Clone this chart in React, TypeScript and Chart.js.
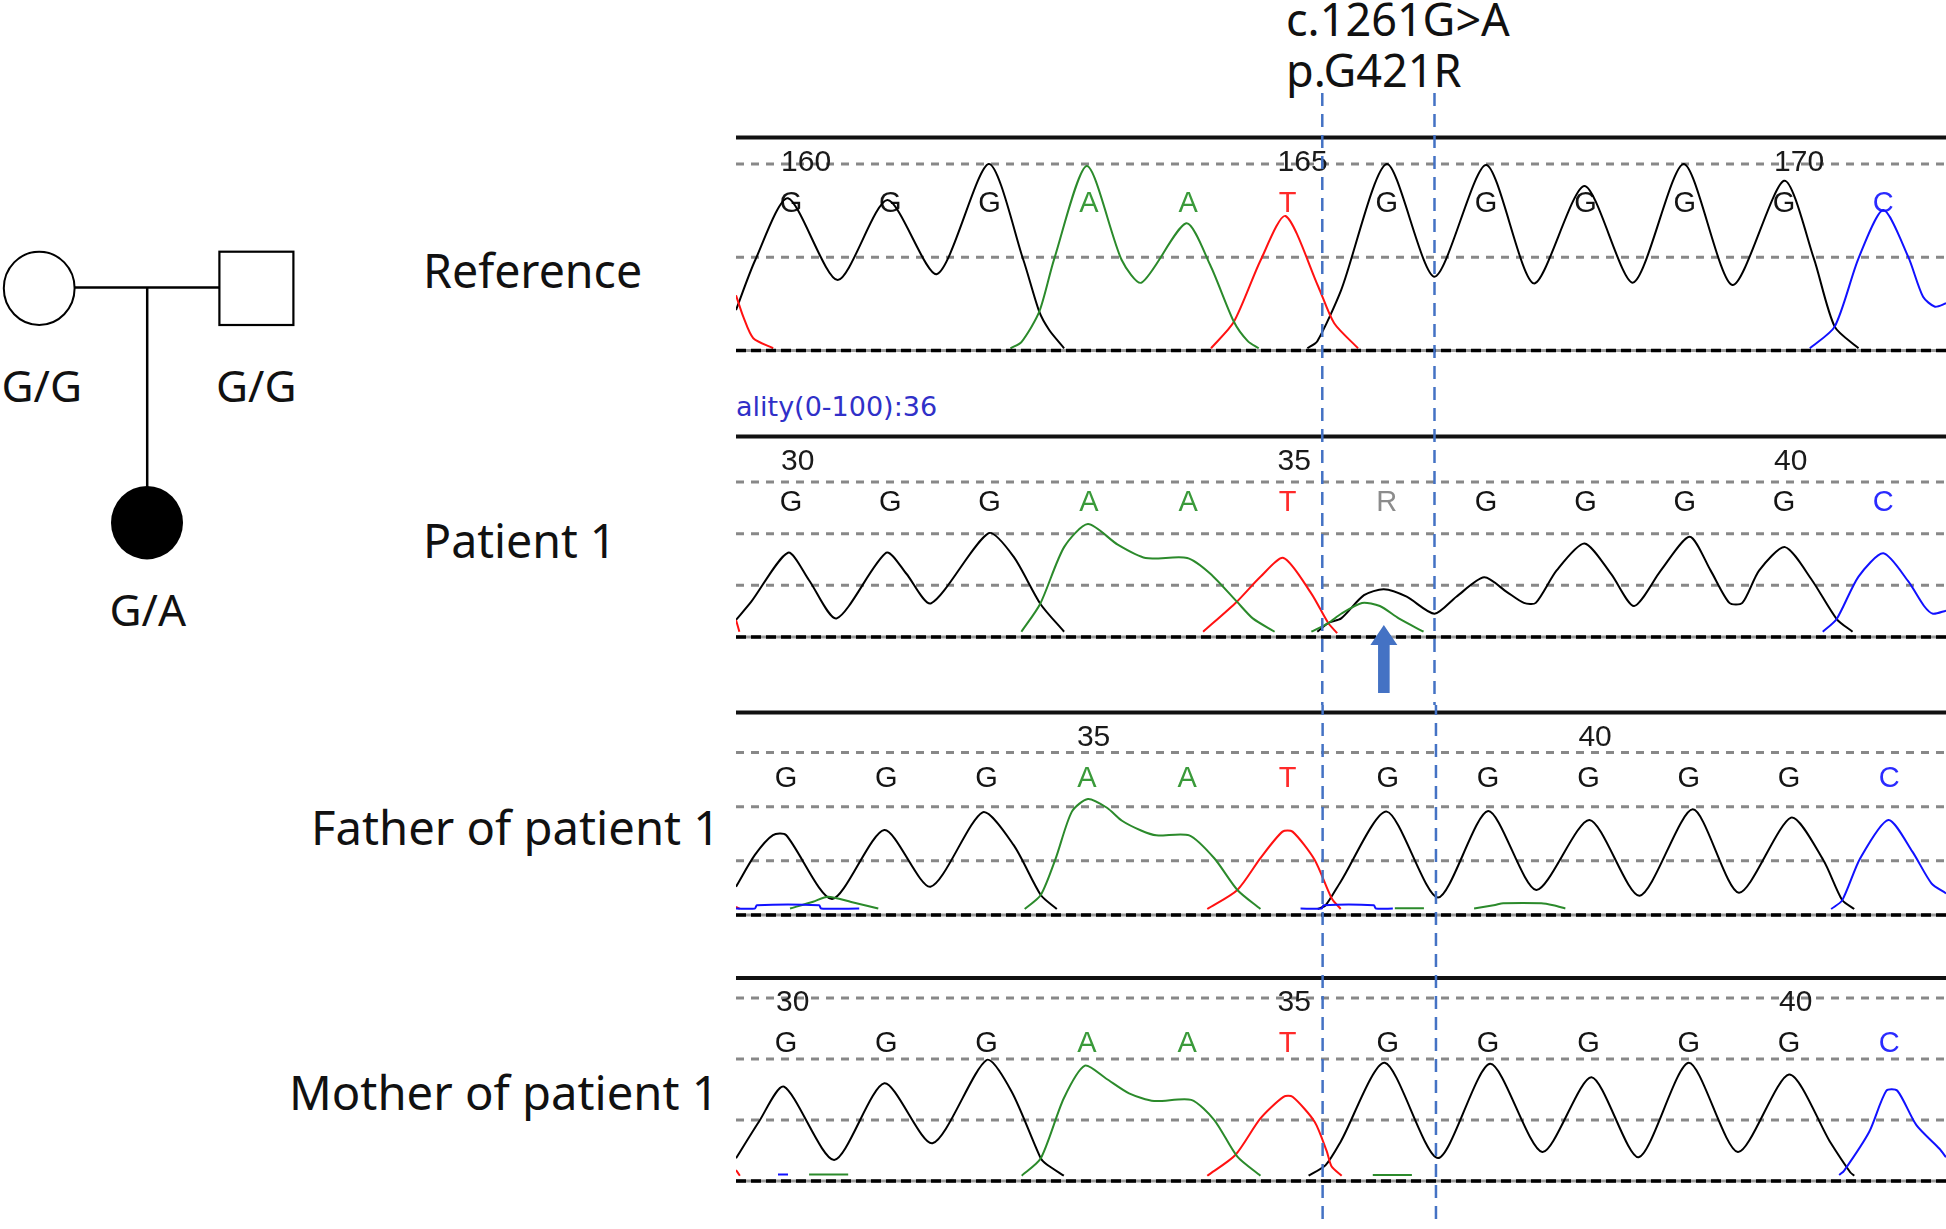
import React, { useEffect, useRef } from 'react';
import { Chart, registerables } from 'chart.js';

Chart.register(...registerables);

type Pt = [number, number] | null;

// ---------------- base calls (x axis = base index) ----------------
const referenceBases = ['G', 'G', 'G', 'A', 'A', 'T', 'G', 'G', 'G', 'G', 'G', 'C'];
const patientBases = ['G', 'G', 'G', 'A', 'A', 'T', 'R', 'G', 'G', 'G', 'G', 'C'];
const fatherBases = ['G', 'G', 'G', 'A', 'A', 'T', 'G', 'G', 'G', 'G', 'G', 'C'];
const motherBases = ['G', 'G', 'G', 'A', 'A', 'T', 'G', 'G', 'G', 'G', 'G', 'C'];

// position numbers: [base index, label]
const referencePositions: [number, string][] = [[0, '160'], [5, '165'], [10, '170']];
const patientPositions: [number, string][] = [[0, '30'], [5, '35'], [10, '40']];
const fatherPositions: [number, string][] = [[3, '35'], [8, '40']];
const motherPositions: [number, string][] = [[0, '30'], [5, '35'], [10, '40']];

const mutationSpan = [5.35, 6.48];
const arrowBase = 5.97;

const sampleLabels = ['Reference', 'Patient 1', 'Father of patient 1', 'Mother of patient 1'];
const genotypes = ['G/G', 'G/G', 'G/A']; // mother, father, patient
const mutationLabels = ['c.1261G>A', 'p.G421R'];
const qualityText = 'ality(0-100):36';

// ---------------- traces: [base position, signal (top dotted line = 100)] ----------------
const referenceBlack: Pt[] = [
  [-0.554, 21.7], [-0.36, 48.5], [-0.03, 81.6], [0.47, 37.8], [0.97, 80.7], [1.47, 41], [1.99, 100],
  [2.34, 48.5], [2.5, 20.8], [2.6, 11], [2.75, 1.2], null,
  [5.2, 1.2], [5.3, 5], [5.54, 32.4], [6.0, 100], [6.48, 39.6], [7.0, 99.5], [7.48, 36], [7.99, 88.2],
  [8.48, 36.4], [8.99, 100], [9.48, 35.1], [10.0, 91], [10.3, 49.4], [10.51, 12.8], [10.75, 1.2],
];
const referenceGreen: Pt[] = [
  [2.21, 1.2], [2.32, 4.5], [2.5, 20.8], [2.65, 49], [2.98, 98.9], [3.33, 48.5], [3.53, 36.4],
  [3.98, 68.2], [4.22, 46], [4.46, 15.4], [4.6, 5], [4.71, 1.2],
];
const referenceRed: Pt[] = [
  [-0.554, 29.6], [-0.48, 18], [-0.38, 6.6], [-0.18, 1.2], null,
  [4.23, 1.2], [4.46, 15.4], [4.73, 48.5], [4.98, 72.1], [5.31, 34.2], [5.47, 14.6], [5.71, 1.2],
];
const referenceBlue: Pt[] = [
  [10.26, 1.2], [10.51, 12.8], [10.75, 49.4], [11.0, 75.3], [11.25, 50.3], [11.4, 28.8], [11.52, 23.5], [11.631, 25.3],
];

const patientBlack: Pt[] = [
  [-0.554, 11], [-0.4, 22.8], [-0.03, 54.4], [0.18, 36.8], [0.46, 12], [0.96, 54.4], [1.16, 41], [1.41, 21.7],
  [1.99, 67], [2.24, 52], [2.51, 21.5], [2.75, 3.4], null,
  [5.3, 3.4], [5.41, 9], [5.54, 12], [5.77, 27], [5.97, 30.8], [6.2, 26], [6.48, 15], [6.7, 26], [6.98, 38.5],
  [7.21, 29], [7.38, 22], [7.5, 22], [7.71, 43], [7.99, 60.4], [8.26, 40.6], [8.49, 20], [8.76, 43], [9.05, 64.7],
  [9.26, 43], [9.45, 22], [9.58, 22], [9.75, 43], [10.01, 58], [10.28, 36.8], [10.53, 11.6], [10.69, 3.4],
];
const patientGreen: Pt[] = [
  [2.32, 3.4], [2.51, 21.5], [2.75, 58], [2.99, 72.9], [3.29, 59.6], [3.57, 51], [3.99, 51], [4.22, 41],
  [4.49, 22.8], [4.65, 12], [4.87, 3.4], null,
  [5.24, 3.4], [5.41, 9], [5.54, 15], [5.75, 22], [5.93, 20], [6.12, 12], [6.37, 3.4],
];
const patientRed: Pt[] = [
  [-0.554, 11], [-0.52, 3.4], null,
  [4.15, 3.4], [4.49, 22.8], [4.73, 39], [4.96, 51], [5.24, 28], [5.41, 9], [5.5, 2.5],
];
const patientBlue: Pt[] = [
  [10.39, 3.4], [10.53, 11.6], [10.75, 39], [11.0, 54], [11.25, 36], [11.41, 20], [11.5, 15], [11.631, 17],
];

const fatherBlack: Pt[] = [
  [-0.4985, 17.4], [-0.31, 37], [-0.13, 49.2], [0.0, 49.2], [0.46, 9.8], [0.98, 52.3], [1.44, 17.4], [1.96, 63.2],
  [2.27, 43], [2.54, 12.3], [2.7, 3.7], null,
  [5.3, 3.7], [5.38, 6], [5.53, 20.5], [5.99, 63.6], [6.5, 10.7], [7.0, 64], [7.48, 15.4], [8.01, 58.5],
  [8.51, 11.9], [9.04, 65], [9.5, 13.7], [10.02, 59.9], [10.34, 34], [10.53, 9.2], [10.65, 3.7],
];
const fatherGreen: Pt[] = [
  [0.04, 4], [0.27, 8.2], [0.42, 11.3], [0.65, 8], [0.92, 4], null,
  [2.38, 3.7], [2.54, 12.3], [2.69, 35], [2.85, 63.6], [3.01, 71.4], [3.2, 66], [3.35, 58], [3.54, 52],
  [3.69, 49], [4.02, 49], [4.27, 34.9], [4.5, 15.4], [4.73, 3.7], null,
  [6.07, 4.1], [6.36, 4.1], null,
  [6.86, 4], [7.07, 6.2], [7.15, 7.2], [7.53, 7.2], [7.65, 6], [7.77, 4],
];
const fatherRed: Pt[] = [
  [-0.4985, 5], [-0.46, 3.7], null,
  [4.2, 3.7], [4.5, 15.4], [4.73, 35], [4.95, 51.3], [5.05, 51.3], [5.27, 34], [5.44, 10.3], [5.53, 3.7],
];
const fatherBlue: Pt[] = [
  [-0.4985, 4], [-0.31, 4], [-0.29, 6], [0.33, 6], [0.35, 4], [0.73, 4], null,
  [5.13, 4], [5.34, 4], [5.36, 6], [5.86, 6], [5.88, 4], [6.05, 4], null,
  [10.42, 3.7], [10.53, 9], [10.71, 34.9], [10.99, 58.5], [11.23, 39], [11.42, 19.5], [11.565, 13.3],
];

const motherBlack: Pt[] = [
  [-0.4985, 12.4], [-0.27, 32.4], [-0.02, 51.5], [0.48, 11.5], [0.98, 53.4], [1.46, 20.6], [2.0, 66.1],
  [2.25, 48.8], [2.54, 12.4], [2.6, 9], [2.77, 2.9], null,
  [5.21, 2.9], [5.38, 8.7], [5.53, 21.5], [5.97, 64.6], [6.5, 12.5], [7.02, 64], [7.54, 15.8], [8.03, 56.7],
  [8.5, 13], [9.0, 64.6], [9.49, 15.8], [10.0, 58.2], [10.41, 21.3], [10.61, 4.8], [10.65, 2.9],
];
const motherGreen: Pt[] = [
  [0.23, 3.6], [0.62, 3.6], null,
  [2.35, 2.9], [2.54, 12.4], [2.77, 45.2], [2.98, 63], [3.19, 56], [3.42, 47.9], [3.67, 43.7], [4.04, 44.3],
  [4.27, 33.3], [4.5, 13.3], [4.73, 2.9], null,
  [5.85, 3.3], [6.24, 3.3],
];
const motherRed: Pt[] = [
  [-0.4985, 6], [-0.46, 2.9], null,
  [4.2, 2.9], [4.48, 14.2], [4.73, 34.2], [4.96, 46], [5.05, 46], [5.27, 32.4], [5.39, 16.4], [5.44, 7.9], [5.54, 2.9],
];
const motherBlue: Pt[] = [
  [-0.08, 3.6], [0.02, 3.6], null,
  [10.5, 3.3], [10.55, 5.7], [10.8, 26.9], [10.97, 49.3], [11.08, 49.3], [11.27, 30.5], [11.5, 17.6], [11.565, 13],
];

// ---------------- styles ----------------
const traceColors: Record<string, string> = { black: '#000000', green: '#2b8a2b', red: '#ff1111', blue: '#1111ff' };
const baseColors: Record<string, string> = { G: '#141414', A: '#3a9a3a', T: '#ff2a2a', C: '#2a2aff', R: '#8c8c8c' };
const markBlue = '#4472c4';
const CANVAS_LEFT = 736;
const CANVAS_WIDTH = 1210;
const DASH_START = 93;

type PanelSpec = {
  key: string; top: number; height: number; padTop: number; padBottom: number;
  xMin: number; xMax: number; yMax: number; grid: number[];
  bases: string[]; positions: [number, string][];
  traces: [Pt[], string][]; arrow: boolean;
};

const thirds = [33.33, 66.67, 100];

const panelSpecs: PanelSpec[] = [
  {
    key: 'reference', top: 93, height: 292, padTop: 44.5, padBottom: 34.5, xMin: -0.554, xMax: 11.631, yMax: 114.2,
    grid: [50, 100], bases: referenceBases, positions: referencePositions,
    traces: [[referenceGreen, 'green'], [referenceRed, 'red'], [referenceBlue, 'blue'], [referenceBlack, 'black']], arrow: false,
  },
  {
    key: 'patient', top: 385, height: 320, padTop: 51.5, padBottom: 68, xMin: -0.554, xMax: 11.631, yMax: 129.4,
    grid: thirds, bases: patientBases, positions: patientPositions,
    traces: [[patientGreen, 'green'], [patientRed, 'red'], [patientBlue, 'blue'], [patientBlack, 'black']], arrow: true,
  },
  {
    key: 'father', top: 705, height: 250, padTop: 7.5, padBottom: 40, xMin: -0.4985, xMax: 11.565, yMax: 124.6,
    grid: thirds, bases: fatherBases, positions: fatherPositions,
    traces: [[fatherBlue, 'blue'], [fatherGreen, 'green'], [fatherRed, 'red'], [fatherBlack, 'black']], arrow: false,
  },
  {
    key: 'mother', top: 955, height: 267, padTop: 23, padBottom: 41, xMin: -0.4985, xMax: 11.565, yMax: 110.9,
    grid: thirds, bases: motherBases, positions: motherPositions,
    traces: [[motherBlue, 'blue'], [motherGreen, 'green'], [motherRed, 'red'], [motherBlack, 'black']], arrow: false,
  },
];

function toData(pts: Pt[]) {
  const out: { x: number; y: number | null }[] = [];
  let lastX = 0;
  for (const p of pts) {
    if (p) { out.push({ x: p[0], y: p[1] }); lastX = p[0]; }
    else out.push({ x: lastX, y: null });
  }
  return out;
}

function makePlugin(spec: PanelSpec) {
  return {
    id: 'chromatogram-' + spec.key,
    beforeDatasetsDraw(chart: any) {
      const { ctx, chartArea: a, scales } = chart;
      const x = scales.x, y = scales.y;
      ctx.save();
      // dotted grid lines
      ctx.strokeStyle = '#888888';
      ctx.lineWidth = 3;
      ctx.setLineDash([8, 7]);
      for (const g of spec.grid) {
        const py = y.getPixelForValue(g);
        ctx.beginPath(); ctx.moveTo(0, py); ctx.lineTo(chart.width, py); ctx.stroke();
      }
      // top solid line
      ctx.setLineDash([]);
      ctx.strokeStyle = '#111111';
      ctx.lineWidth = 4;
      ctx.beginPath(); ctx.moveTo(0, a.top); ctx.lineTo(chart.width, a.top); ctx.stroke();
      // position numbers
      ctx.font = '30px "Liberation Sans", Arial, sans-serif';
      ctx.textAlign = 'left';
      ctx.textBaseline = 'alphabetic';
      ctx.fillStyle = '#1a1a1a';
      for (const [i, label] of spec.positions) {
        ctx.fillText(label, x.getPixelForValue(i) - 10, a.top + 33);
      }
      // base letters
      ctx.font = '29px "Liberation Sans", Arial, sans-serif';
      ctx.textAlign = 'center';
      spec.bases.forEach((b, i) => {
        ctx.fillStyle = baseColors[b] || '#000';
        ctx.fillText(b, x.getPixelForValue(i), a.top + 74);
      });
      ctx.restore();
    },
    afterDatasetsDraw(chart: any) {
      const { ctx, chartArea: a, scales } = chart;
      const x = scales.x;
      ctx.save();
      // baseline
      ctx.strokeStyle = '#9a9a9a';
      ctx.lineWidth = 3;
      ctx.beginPath(); ctx.moveTo(0, a.bottom); ctx.lineTo(chart.width, a.bottom); ctx.stroke();
      ctx.strokeStyle = '#000000';
      ctx.lineWidth = 3.5;
      ctx.setLineDash([10, 5]);
      ctx.beginPath(); ctx.moveTo(0, a.bottom); ctx.lineTo(chart.width, a.bottom); ctx.stroke();
      // mutation boundary lines
      ctx.strokeStyle = markBlue;
      ctx.lineWidth = 2.5;
      ctx.setLineDash([13, 8]);
      ctx.lineDashOffset = spec.top - DASH_START;
      for (const m of mutationSpan) {
        const px = x.getPixelForValue(m);
        ctx.beginPath(); ctx.moveTo(px, 0); ctx.lineTo(px, chart.height); ctx.stroke();
      }
      ctx.setLineDash([]);
      // arrow under the heterozygous call
      if (spec.arrow) {
        const ax = x.getPixelForValue(arrowBase);
        const by = a.bottom;
        ctx.fillStyle = markBlue;
        ctx.beginPath();
        ctx.moveTo(ax, by - 12);
        ctx.lineTo(ax + 13.5, by + 8);
        ctx.lineTo(ax + 5.8, by + 8);
        ctx.lineTo(ax + 5.8, by + 56);
        ctx.lineTo(ax - 5.8, by + 56);
        ctx.lineTo(ax - 5.8, by + 8);
        ctx.lineTo(ax - 13.5, by + 8);
        ctx.closePath();
        ctx.fill();
      }
      ctx.restore();
    },
  };
}

function Panel({ spec }: { spec: PanelSpec }) {
  const ref = useRef<HTMLCanvasElement>(null);
  useEffect(() => {
    const canvas = ref.current;
    if (!canvas) return;
    const chart = new Chart(canvas, {
      type: 'line',
      data: {
        datasets: spec.traces.map(([pts, color]) => ({
          data: toData(pts) as any,
          borderColor: traceColors[color],
          borderWidth: 2,
          pointRadius: 0,
          tension: 0.25,
          spanGaps: false,
          fill: false,
          clip: false as any,
        })),
      },
      options: {
        animation: false,
        responsive: false,
        maintainAspectRatio: false,
        devicePixelRatio: 1,
        events: [],
        layout: { padding: { top: spec.padTop, bottom: spec.padBottom, left: 0, right: 0 } },
        plugins: { legend: { display: false }, tooltip: { enabled: false } },
        scales: {
          x: { type: 'linear', min: spec.xMin, max: spec.xMax, display: false },
          y: { type: 'linear', min: 0, max: spec.yMax, display: false },
        },
      },
      plugins: [makePlugin(spec) as any],
    });
    return () => chart.destroy();
  }, [spec]);
  return (
    <canvas
      ref={ref}
      width={CANVAS_WIDTH}
      height={spec.height}
      style={{ position: 'absolute', left: CANVAS_LEFT, top: spec.top, width: CANVAS_WIDTH, height: spec.height }}
    />
  );
}

const labelFont = '"Noto Sans", "Open Sans", sans-serif';

export default function App() {
  return (
    <div style={{ position: 'absolute', left: 0, top: 0, width: 1946, height: 1229, background: '#ffffff', overflow: 'hidden' }}>
      <svg width={1946} height={1229} style={{ position: 'absolute', left: 0, top: 0 }}>
        {/* pedigree */}
        <line x1={74} y1={287.5} x2={219.5} y2={287.5} stroke="#000" strokeWidth={2.5} />
        <line x1={147.2} y1={287.5} x2={147.2} y2={488} stroke="#000" strokeWidth={2.5} />
        <ellipse cx={39.2} cy={288.3} rx={35.4} ry={36.6} fill="#fff" stroke="#000" strokeWidth={2} />
        <rect x={219.4} y={251.7} width={74} height={73.3} fill="#fff" stroke="#000" strokeWidth={2.2} />
        <ellipse cx={147} cy={522.7} rx={36} ry={36.7} fill="#000" />
        <g fontFamily={labelFont} fontSize={44} fill="#111">
          <text x={1.5} y={401.5}>{genotypes[0]}</text>
          <text x={216} y={401.5}>{genotypes[1]}</text>
          <text x={109.5} y={625.5}>{genotypes[2]}</text>
        </g>
        {/* sample labels */}
        <g fontFamily={labelFont} fill="#111">
          <text x={423} y={287.5} fontSize={46.5}>{sampleLabels[0]}</text>
          <text x={423} y={557.5} fontSize={46.5}>{sampleLabels[1]}</text>
          <text x={311} y={845} fontSize={47.2}>{sampleLabels[2]}</text>
          <text x={289} y={1110} fontSize={47.2}>{sampleLabels[3]}</text>
        </g>
        {/* mutation labels */}
        <g fontFamily={labelFont} fontSize={45} fill="#111">
          <text x={1286} y={36}>{mutationLabels[0]}</text>
          <text x={1286} y={87}>{mutationLabels[1]}</text>
        </g>
        <text x={736} y={416} fontFamily='"DejaVu Sans", sans-serif' fontSize={27} fill="#3030c8">{qualityText}</text>
      </svg>
      {panelSpecs.map((s) => <Panel key={s.key} spec={s} />)}
    </div>
  );
}
